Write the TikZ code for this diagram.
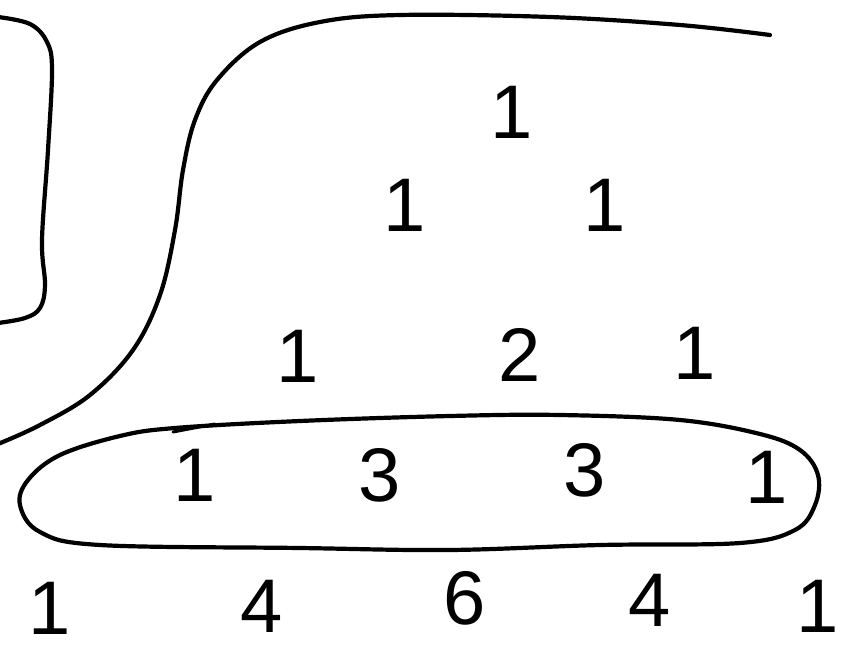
\documentclass[tikz,border=0pt]{standalone}
\usepackage{fontspec}
\setmainfont{Liberation Sans}
\begin{document}
\begin{tikzpicture}[x=1pt,y=-1pt,
  pen/.style={line width=4.2pt,line cap=round,line join=round,black},
  num/.style={inner sep=0pt,font=\fontsize{76}{80}\selectfont}]
\useasboundingbox (0,0) rectangle (841,656);
% left rounded box (partly cut)
\draw[pen] plot[smooth,tension=0.6] coordinates {(-2,17) (30,24) (47,42) (52,70) (48,150) (42,240) (45,285) (40,308) (25,318) (-2,323)};
% big curve
\draw[pen] plot[smooth,tension=0.6] coordinates {(-2,444) (40,425) (90,395) (133,350) (160,295) (175,230) (183,170) (195,120) (217,80) (260,42) (320,22) (400,15) (550,17) (680,25) (770,35)};
% loop around row 4
\draw[pen] plot[smooth cycle,tension=0.6] coordinates {(175,428) (300,421) (450,416) (560,415) (680,420) (760,434) (800,450) (818,475) (815,505) (795,530) (740,543) (600,545) (450,550) (300,548) (100,545) (40,532) (20,505) (28,480) (60,455) (120,436)};
\draw[pen,line width=3pt] (173,432) -- (215,424);
% numbers
\node[num] (r1a) at (512,112) {1};
\node[num] (r2a) at (405,205) {1};
\node[num] (r2b) at (605,205) {1};
\node[num] (r3a) at (298,356) {1};
\node[num] (r3b) at (520,355) {2};
\node[num] (r3c) at (695,353) {1};
\node[num] (r4a) at (195,475) {1};
\node[num] (r4b) at (380,475) {3};
\node[num] (r4c) at (585,470) {3};
\node[num] (r4d) at (767,477) {1};
\node[num] (r5a) at (50,608) {1};
\node[num] (r5b) at (262,606) {4};
\node[num] (r5c) at (465,598) {6};
\node[num] (r5d) at (650,600) {4};
\node[num] (r5e) at (818,606) {1};
\end{tikzpicture}
\end{document}
